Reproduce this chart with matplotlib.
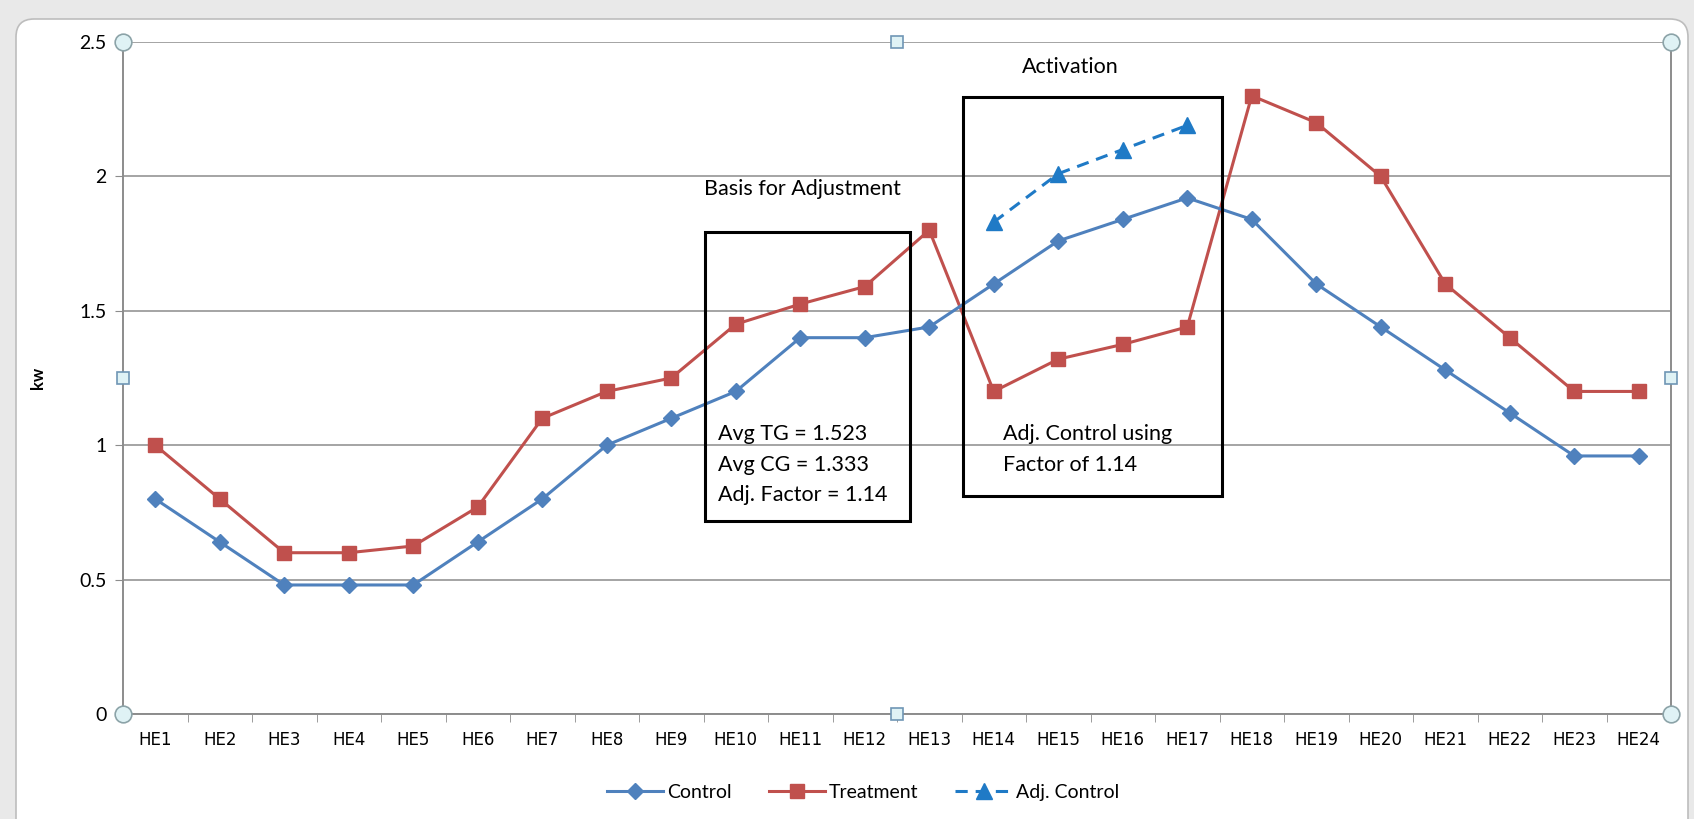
import matplotlib
matplotlib.use("Agg")
import matplotlib.pyplot as plt
from matplotlib.patches import FancyBboxPatch, Rectangle
from matplotlib.transforms import IdentityTransform

hours = ['HE%d' % i for i in range(1, 25)]
control = [0.80, 0.64, 0.48, 0.48, 0.48, 0.64, 0.80, 1.00, 1.10, 1.20, 1.40, 1.40,
           1.44, 1.60, 1.76, 1.84, 1.92, 1.84, 1.60, 1.44, 1.28, 1.12, 0.96, 0.96]
treatment = [1.00, 0.80, 0.60, 0.60, 0.625, 0.77, 1.10, 1.20, 1.25, 1.45, 1.525, 1.59,
             1.80, 1.20, 1.32, 1.375, 1.44, 2.30, 2.20, 2.00, 1.60, 1.40, 1.20, 1.20]
adj_hours = ['HE14', 'HE15', 'HE16', 'HE17']
adj_control = [1.83, 2.01, 2.10, 2.19]

basis_lines = ['Avg TG = 1.523', 'Avg CG = 1.333', 'Adj. Factor = 1.14']
act_lines = ['Adj. Control using', 'Factor of 1.14']

c_blue = '#4F81BD'
c_red = '#C0504D'
c_adj = '#1F7AC6'
c_grid = '#8c8c8c'

fig = plt.figure(figsize=(16.94, 8.19), dpi=100, facecolor='#e9e9e9')
# chart area (white rounded box)
fig.patches.append(FancyBboxPatch((16, -40), 1672, 840, boxstyle='round,pad=0,rounding_size=18',
                                  transform=IdentityTransform(), facecolor='white',
                                  edgecolor='#bdbdbd', linewidth=1.2, zorder=-5))

ax = fig.add_axes([123 / 1694, 1 - 714 / 819, 1548 / 1694, 672 / 819])
ax.set_facecolor('none')
x = list(range(1, 25))
xa = [hours.index(h) + 1 for h in adj_hours]

ax.plot(x, control, color=c_blue, lw=2.2, marker='D', ms=8, zorder=4, label='Control')
ax.plot(x, treatment, color=c_red, lw=2.2, marker='s', ms=9.5, zorder=3, label='Treatment')
ax.plot(xa, adj_control, color=c_adj, lw=2.2, ls=(0, (4, 2.6)), marker='^', ms=11, zorder=5,
        label='Adj. Control')

ax.set_xlim(0.5, 24.5)
ax.set_ylim(0, 2.5)
ax.set_yticks([0, 0.5, 1, 1.5, 2, 2.5])
ax.set_yticklabels(['0', '0.5', '1', '1.5', '2', '2.5'], fontsize=14, family='Lato')
ax.set_xticks(x)
ax.set_xticklabels(hours, fontsize=12, family='DejaVu Sans')
ax.set_xticks([i + 0.5 for i in range(0, 25)], minor=True)
ax.tick_params(axis='x', which='major', length=0, pad=12)
ax.tick_params(axis='x', which='minor', length=6, color=c_grid, direction='out')
ax.tick_params(axis='y', length=6, color=c_grid, direction='out', pad=6)
ax.grid(axis='y', color=c_grid, lw=1.1)
for s in ax.spines.values():
    s.set_color(c_grid)
    s.set_linewidth(1.4)
ax.spines['top'].set_visible(False)
ax.set_ylabel('kw', fontsize=12, fontweight='bold', family='Lato', labelpad=24)

# annotation boxes
ax.add_patch(Rectangle((9.53, 0.718), 3.17, 1.075, fill=False, ec='black', lw=2.2, zorder=6))
ax.add_patch(Rectangle((13.53, 0.811), 4.01, 1.484, fill=False, ec='black', lw=2.2, zorder=6))
ax.text(11.03, 1.953, 'Basis for Adjustment', ha='center', va='center', fontsize=15.5, family='Lato')
ax.text(15.19, 2.407, 'Activation', ha='center', va='center', fontsize=15.5, family='Lato')
for i, t in enumerate(basis_lines):
    ax.text(9.73, 1.04 - i * 0.112, t, ha='left', va='center', fontsize=15.5, family='Lato')
for i, t in enumerate(act_lines):
    ax.text(14.14, 1.04 - i * 0.112, t, ha='left', va='center', fontsize=15.5, family='Lato')

# selection handles
x0, x1 = ax.get_xlim()
y0, y1 = ax.get_ylim()
ax.plot([x0, x0, x1, x1], [y0, y1, y0, y1], ls='none', marker='o', ms=12, mfc='#dff2f5',
        mec='#8ca3a8', mew=1.2, clip_on=False, zorder=8)
ax.plot([(x0 + x1) / 2, (x0 + x1) / 2, x0, x1], [y0, y1, (y0 + y1) / 2, (y0 + y1) / 2],
        ls='none', marker='s', ms=9, mfc='#dff2f5', mec='#6f96b5', mew=1.2, clip_on=False, zorder=8)

ax.legend(loc='upper center', bbox_to_anchor=(0.478, -0.078), ncol=3, frameon=False,
          prop={'family': 'Lato', 'size': 14}, handlelength=2.9, columnspacing=1.9, handletextpad=0.2)

fig.savefig('out.png', dpi=100, facecolor=fig.get_facecolor())
